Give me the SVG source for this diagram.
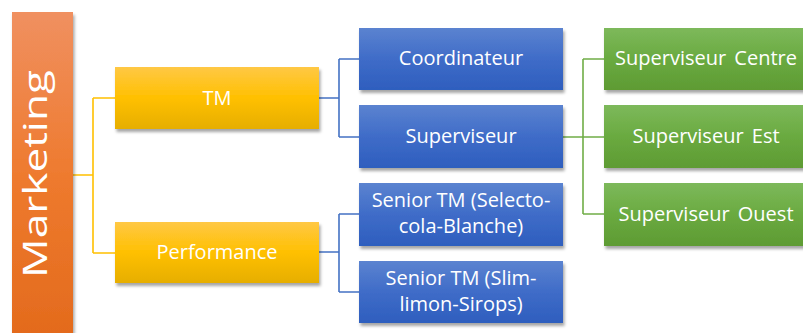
<svg xmlns="http://www.w3.org/2000/svg" width="803" height="333" viewBox="0 0 803 333">
<defs>
<linearGradient id="gO" x1="0" y1="0" x2="0" y2="1"><stop offset="0" stop-color="#F09060"/><stop offset="0.5" stop-color="#EE7A2E"/><stop offset="1" stop-color="#E36A1C"/></linearGradient>
<linearGradient id="gY" x1="0" y1="0" x2="0" y2="1"><stop offset="0" stop-color="#FFC845"/><stop offset="0.5" stop-color="#FFC000"/><stop offset="1" stop-color="#E6AE00"/></linearGradient>
<linearGradient id="gB" x1="0" y1="0" x2="0" y2="1"><stop offset="0" stop-color="#5B83D0"/><stop offset="0.5" stop-color="#3F6CC8"/><stop offset="1" stop-color="#2E5EBE"/></linearGradient>
<linearGradient id="gG" x1="0" y1="0" x2="0" y2="1"><stop offset="0" stop-color="#7DB95B"/><stop offset="0.5" stop-color="#6AAA40"/><stop offset="1" stop-color="#5E9B33"/></linearGradient>
<filter id="sh" x="-10%" y="-10%" width="120%" height="140%"><feDropShadow dx="1.5" dy="3" stdDeviation="1.8" flood-color="#000" flood-opacity="0.35"/></filter>
</defs>
<style>
.t{font-family:"Open Sans","Noto Sans",sans-serif;font-size:20px;fill:#fff;text-anchor:middle}
.c{fill:none;stroke-width:1.6}
</style>
<g id="connectors">
<path class="c" stroke="#FFC000" d="M73 175H93M93 98V253M93 98H115M93 253H115"/>
<path class="c" stroke="#4472C4" d="M319 98H339M339 59V137M339 59H359M339 137H359"/>
<path class="c" stroke="#4472C4" d="M319 252H339M339 214V292M339 214H359M339 292H359"/>
<path class="c" stroke="#70AD47" d="M563 137H604M583 59V214M583 59H604M583 214H604"/>
</g>
<g id="marketing"><rect x="12" y="12" width="61" height="330" fill="url(#gO)" filter="url(#sh)"/><text class="t" transform="translate(47,174) rotate(-90)" style="font-size:33px" textLength="208" lengthAdjust="spacingAndGlyphs">Marketing</text></g>
<g id="tm"><rect x="115" y="67" width="204" height="62" fill="url(#gY)" filter="url(#sh)"/><text class="t" x="217" y="105">TM</text></g>
<g id="performance"><rect x="115" y="222" width="204" height="61" fill="url(#gY)" filter="url(#sh)"/><text class="t" x="217" y="259">Performance</text></g>
<g id="coordinateur"><rect x="359" y="28" width="204" height="62" fill="url(#gB)" filter="url(#sh)"/><text class="t" x="461" y="65">Coordinateur</text></g>
<g id="superviseur"><rect x="359" y="105" width="204" height="63" fill="url(#gB)" filter="url(#sh)"/><text class="t" x="461" y="143">Superviseur</text></g>
<g id="senior1"><rect x="359" y="183" width="204" height="63" fill="url(#gB)" filter="url(#sh)"/><text class="t" x="461" y="207">Senior TM (Selecto-</text><text class="t" x="461" y="233">cola-Blanche)</text></g>
<g id="senior2"><rect x="359" y="261" width="204" height="62" fill="url(#gB)" filter="url(#sh)"/><text class="t" x="461" y="285">Senior TM (Slim-</text><text class="t" x="461" y="311">limon-Sirops)</text></g>
<g id="centre"><rect x="604" y="28" width="204" height="62" fill="url(#gG)" filter="url(#sh)"/><text class="t" x="706" y="65" word-spacing="3">Superviseur Centre</text></g>
<g id="est"><rect x="604" y="105" width="204" height="63" fill="url(#gG)" filter="url(#sh)"/><text class="t" x="706" y="143" word-spacing="3">Superviseur Est</text></g>
<g id="ouest"><rect x="604" y="183" width="204" height="63" fill="url(#gG)" filter="url(#sh)"/><text class="t" x="706" y="221" word-spacing="3">Superviseur Ouest</text></g>
</svg>
